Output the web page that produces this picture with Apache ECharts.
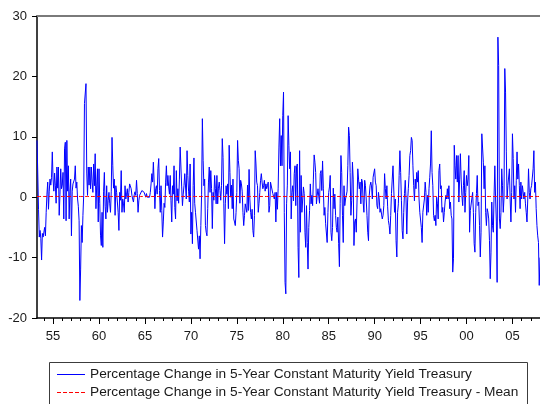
<!DOCTYPE html>
<html>
<head>
<meta charset="utf-8">
<script src="https://cdn.jsdelivr.net/npm/echarts@6/dist/echarts.min.js"></script>
<style>
  html, body { margin: 0; padding: 0; background: #ffffff; }
  #chart { width: 540px; height: 404px; }
</style>
</head>
<body>
<div id="chart"></div>
<script>
// Monthly percentage change in the 5-year constant maturity Treasury yield.
// First observation: April 1953, one value per month through January 2008.
const firstYear = 1953;
const firstMonth = 4;

// Apr 1953 – Dec 1959
const change1950s = [
  9.4, 4.0, -2.0, -6.6, -5.5, -6.8, -10.4, -6.0, -6.6,
  -6.4, -5.0, -6.4, -2.5, 0.5, 2.5, -2.0, 1.0, 3.0, 2.0, 3.3, 7.5,
  3.0, 1.0, 4.0, 2.0, -1.0, 5.0, 1.5, 5.0, -3.0, 0.5, 4.7, 1.4,
  2.0, 4.1, -3.6, 8.0, 9.1, -3.9, 9.4, 1.0, 5.2, -3.6, 1.0, 3.0,
  -6.4, 1.0, 2.2, 2.5, 3.0, 5.2, 1.5, 2.5, -0.3, -1.5, -3.9, -17.1,
  -11.9, -4.7, -7.5, -3.0, 0.3, 15.5, 15.2, 18.8, 4.0, 0.3, 5.0, 2.0,
  5.0, 1.4, 5.0, 2.5, 0.8, 5.5, 1.9, 7.2, -1.9, 2.0, 4.7, -4.1
];
// Jan 1960 – Dec 1969
const change1960s = [
  4.7, -1.0, -6.4, -8.0, -2.5, -8.3, 1.0, 4.1, -1.5, -3.6, 1.9, -2.5,
  -0.5, 0.8, -1.1, -2.5, 1.0, 9.9, 5.2, 1.5, 3.0, -3.0, 1.9, 0.8,
  0.8, -2.5, -5.5, 0.8, -0.5, 4.4, -2.5, -0.3, -1.1, -2.5, 1.9, -0.3,
  0.5, 1.4, -0.8, 0.8, 2.2, 1.9, 1.4, 0.3, -0.3, -0.8, 0.4, 0.9,
  0.3, 2.8, 0.6, -2.5, -0.6, 0.3, 0.6, 0.0, 1.1, 1.4, 0.8, 0.8,
  1.1, 0.0, 0.6, 0.0, 0.0, 0.1, 0.0, 0.8, 2.2, 3.9, 2.5, 5.8,
  2.5, -1.9, 1.4, 1.9, 0.5, 4.7, 6.4, 1.1, -2.5, 1.9, -2.2, -6.6,
  -4.1, -1.0, -1.7, 2.5, 5.2, 1.9, 3.6, 1.7, 0.5, 3.6, -0.6, -4.1,
  1.9, 0.5, 5.2, -1.7, -3.6, 4.4, -0.6, 1.4, -1.0, 3.0, 8.3, 5.0,
  1.7, -1.4, 0.5, 1.9, 3.9, 3.6, -0.3, 7.7, 3.6, 1.0, -0.8, 5.5
];
// Jan 1970 – Dec 1979
const change1970s = [
  -6.1, -2.5, -7.7, 1.9, 6.5, -1.0, -2.5, -2.5, -5.5, -5.8, -8.6, -6.4,
  -10.2, -4.7, 0.5, 13.0, 6.1, 1.9, 3.0, -4.7, -5.8, -6.4, -1.9, 2.5,
  5.0, 0.8, 4.4, 1.4, -5.2, 0.8, -0.5, 3.6, 1.4, -1.1, 3.6, -1.1,
  1.5, 2.5, 1.1, -0.5, 1.9, 9.7, 6.6, -1.1, -7.7, -1.1, 1.9, 0.5,
  2.2, -1.9, 8.6, 4.1, 0.0, 2.0, -1.9, 3.0, -3.6, -4.1, -4.7, -2.5,
  0.8, 9.4, 6.1, 4.7, -1.0, 2.8, 2.2, 1.0, -2.5, -4.7, -3.0, -1.1,
  -1.1, -2.5, 2.0, -2.2, 4.6, -0.3, -2.5, -3.6, -2.0, -5.5, -6.6, -3.0,
  7.7, 5.5, 2.5, 1.9, -2.5, -1.0, 0.8, 2.8, 3.9, 2.5, 1.4, 1.9,
  2.8, 1.0, 2.2, 1.4, 1.9, 2.5, -2.5, -1.4, 2.5, 2.5, 2.8, 0.6,
  0.6, -0.3, 0.8, -4.1, 0.8, -2.0, 1.5, 8.3, 13.0, 5.2, 10.2, 5.2
];
// Jan 1980 – Dec 1989
const change1980s = [
  13.5, 17.4, -2.5, -14.1, -16.0, -1.1, 2.0, 13.5, 8.6, 4.7, 7.5, -3.6,
  0.8, 1.9, -0.6, 3.9, 5.2, -1.4, 5.0, 5.5, -8.3, -13.3, 7.7, -5.8,
  3.6, -2.5, -2.5, 1.7, 0.6, -5.8, -8.3, -1.4, -7.5, -11.9, -5.0, -2.2,
  2.2, -1.1, 0.3, -1.4, 3.0, 7.0, 5.8, 4.1, -1.1, 0.3, 1.4, 1.7,
  -1.0, 3.9, 4.4, 1.1, 6.0, 1.5, -3.0, -1.7, -4.4, -4.1, -7.5, -2.5,
  0.8, 1.7, 3.6, -5.8, -7.2, -5.0, 1.5, -1.9, 0.5, -3.0, -5.0, -5.8,
  -3.3, -7.7, -11.5, -1.0, 6.9, 4.1, -3.0, -7.5, 1.9, -1.4, -0.3, 0.3,
  1.0, 5.2, 11.6, 10.2, 4.1, -3.0, -0.6, 5.8, 3.0, -8.0, -4.1, -3.6,
  -5.8, -0.8, 4.7, 3.0, 1.4, 2.5, -1.1, 3.0, 2.5, -0.8, -2.5, 2.8,
  1.9, -0.3, -3.0, -5.8, -7.2, 0.3, 1.9, 2.5, 1.7, -0.3, 3.3, 3.0
];
// Jan 1990 – Dec 1999
const change1990s = [
  4.7, 2.5, 1.9, -1.4, -1.9, 0.8, -0.3, -2.5, -1.9, -2.8, -3.6, -3.0,
  -1.4, 3.9, 1.4, -0.3, 1.9, -1.6, -3.9, -4.7, -6.1, -3.0, 0.6, 3.0,
  5.2, 5.5, -2.5, -0.3, -7.2, -9.9, -2.5, -1.1, 3.6, 7.7, 4.1, -0.5,
  -5.5, -6.9, -2.5, 0.6, 2.8, -0.3, -6.1, -0.8, 1.4, 3.6, 6.9, 7.7,
  9.9, 9.4, 5.2, 1.9, -0.6, 3.0, 1.4, 4.1, 2.5, 4.4, -0.3, -2.5,
  -2.8, -5.0, -7.5, -2.5, -2.5, -0.3, 2.5, 0.8, -3.0, 0.3, -2.5, 1.4,
  3.3, 5.5, 11.0, 4.1, 1.9, -3.0, -3.9, -3.0, -4.7, 0.0, -1.1, -3.6,
  4.4, 5.5, 1.4, 1.9, -2.5, -1.7, -4.1, -2.5, -0.8, 0.3, -0.3, 1.4,
  -0.3, 1.9, -1.9, -0.8, -3.0, -3.6, -12.4, -10.2, 8.6, 5.2, 3.0, 6.9,
  2.5, 6.9, -0.8, 3.0, 7.2, 3.0, 0.3, -1.4, 1.9, 4.4, -2.5, 0.8
];
// Jan 2000 – Jan 2008
const change2000s = [
  3.6, 1.9, 3.0, 6.9, -5.8, -2.2, -1.9, -2.5, 0.8, -2.5, -7.7, -9.1,
  -2.5, 0.6, 3.6, -1.4, -0.8, -4.7, -9.9, -5.8, 10.5, 10.2, 5.8, 1.4,
  5.2, -2.5, -4.7, -1.9, -2.5, -3.6, -7.2, -13.5, -9.1, -0.8, -4.7, -5.8,
  0.3, 5.2, -0.3, -4.1, -14.1, 26.5, 21.8, -3.6, -5.2, -2.5, 4.7, 1.9,
  -2.5, 0.0, 21.3, 17.4, 7.5, -0.3, 1.9, 1.9, 4.7, -0.3, -4.1, 0.8,
  10.5, 6.4, -0.3, 1.9, -2.5, 2.8, 7.5, 3.0, 5.5, 1.9, -1.9, 2.5,
  -0.3, 1.9, 1.7, -0.3, 0.8, -1.1, -2.5, -4.1, -0.3, 4.7, 0.8, -0.3,
  1.4, 1.9, 2.2, 4.7, 7.7, 0.8, 2.5, -1.9, -4.7, -6.4, -7.5, -14.6,
  -10.0
];

// Sample mean of the whole series
const meanChange = 0.12;

// Labelled years on the time axis and their two-digit captions
const labelYears = [1955, 1960, 1965, 1970, 1975, 1980, 1985, 1990, 1995, 2000, 2005];
const tickLabels = ['55', '60', '65', '70', '75', '80', '85', '90', '95', '00', '05'];
const yearTicks = [];
for (let y = 1954; y <= 2007; y++) yearTicks.push(y);

const seriesNames = [
  'Percentage Change in 5-Year Constant Maturity Yield Treasury',
  'Percentage Change in 5-Year Constant Maturity Yield Treasury - Mean'
];

const values = [].concat(change1950s, change1960s, change1970s, change1980s, change1990s, change2000s);
const xStart = firstYear + (firstMonth - 1) / 12;
const xEnd = xStart + (values.length - 1) / 12;
const lineData = values.map((v, i) => [xStart + i / 12, v]);
const meanData = values.map((v, i) => [xStart + i / 12, meanChange]);

const FONT = '"Liberation Sans", Arial, sans-serif';
const labelColor = '#1a1a1a';

const chart = echarts.init(document.getElementById('chart'), null, { renderer: 'canvas' });

chart.setOption({
  animation: false,
  backgroundColor: '#ffffff',
  grid: { left: 37, right: 0, top: 16, bottom: 86, containLabel: false },
  xAxis: [
    {
      type: 'value', position: 'bottom', min: xStart, max: xEnd,
      splitLine: { show: false },
      axisLine: { show: true, onZero: false, lineStyle: { color: '#000000', width: 1.5 } },
      axisTick: { show: true, length: 6, customValues: labelYears, lineStyle: { color: '#000000', width: 1 } },
      axisLabel: {
        show: true, customValues: labelYears, margin: 12,
        fontFamily: FONT, fontSize: 13, color: labelColor,
        formatter: (v) => tickLabels[labelYears.indexOf(Math.round(v))]
      }
    },
    {
      type: 'value', position: 'bottom', min: xStart, max: xEnd,
      splitLine: { show: false },
      axisLine: { show: false, onZero: false },
      axisTick: { show: true, length: 3, customValues: yearTicks, lineStyle: { color: '#000000', width: 1 } },
      axisLabel: { show: false }
    },
    {
      type: 'value', position: 'top', min: xStart, max: xEnd,
      splitLine: { show: false },
      axisLine: { show: true, onZero: false, lineStyle: { color: '#7a7a7a', width: 2 } },
      axisTick: { show: false },
      axisLabel: { show: false }
    }
  ],
  yAxis: {
    type: 'value', min: -20, max: 30, interval: 10,
    splitLine: { show: false },
    axisLine: { show: true, onZero: false, lineStyle: { color: '#000000', width: 1.5 } },
    axisTick: { show: true, length: 5, lineStyle: { color: '#000000', width: 1 } },
    axisLabel: { margin: 10, fontFamily: FONT, fontSize: 13, color: labelColor }
  },
  series: [
    {
      name: seriesNames[1], type: 'line', xAxisIndex: 0, yAxisIndex: 0,
      data: meanData, symbol: 'none', silent: true, z: 3,
      lineStyle: { color: '#ff0000', width: 1, type: [4, 2] }
    },
    {
      name: seriesNames[0], type: 'line', xAxisIndex: 0, yAxisIndex: 0,
      data: lineData, symbol: 'none', silent: true, z: 2,
      lineStyle: { color: '#0000ff', width: 1 }
    }
  ],
  graphic: [
    {
      type: 'rect', silent: true,
      shape: { x: 49.5, y: 362.5, width: 478, height: 60 },
      style: { fill: '#ffffff', stroke: '#3c3c3c', lineWidth: 1 }
    },
    {
      type: 'line', silent: true,
      shape: { x1: 57, y1: 374.5, x2: 85, y2: 374.5 },
      style: { stroke: '#0000ff', lineWidth: 1 }
    },
    {
      type: 'text', silent: true, x: 90, y: 374.5,
      style: { text: seriesNames[0], font: '13.7px ' + FONT, fill: labelColor, verticalAlign: 'middle', align: 'left' }
    },
    {
      type: 'line', silent: true,
      shape: { x1: 57, y1: 392.5, x2: 85, y2: 392.5 },
      style: { stroke: '#ff0000', lineWidth: 1, lineDash: [4, 2] }
    },
    {
      type: 'text', silent: true, x: 90, y: 392.5,
      style: { text: seriesNames[1], font: '13.7px ' + FONT, fill: labelColor, verticalAlign: 'middle', align: 'left' }
    }
  ]
});
</script>
</body>
</html>
